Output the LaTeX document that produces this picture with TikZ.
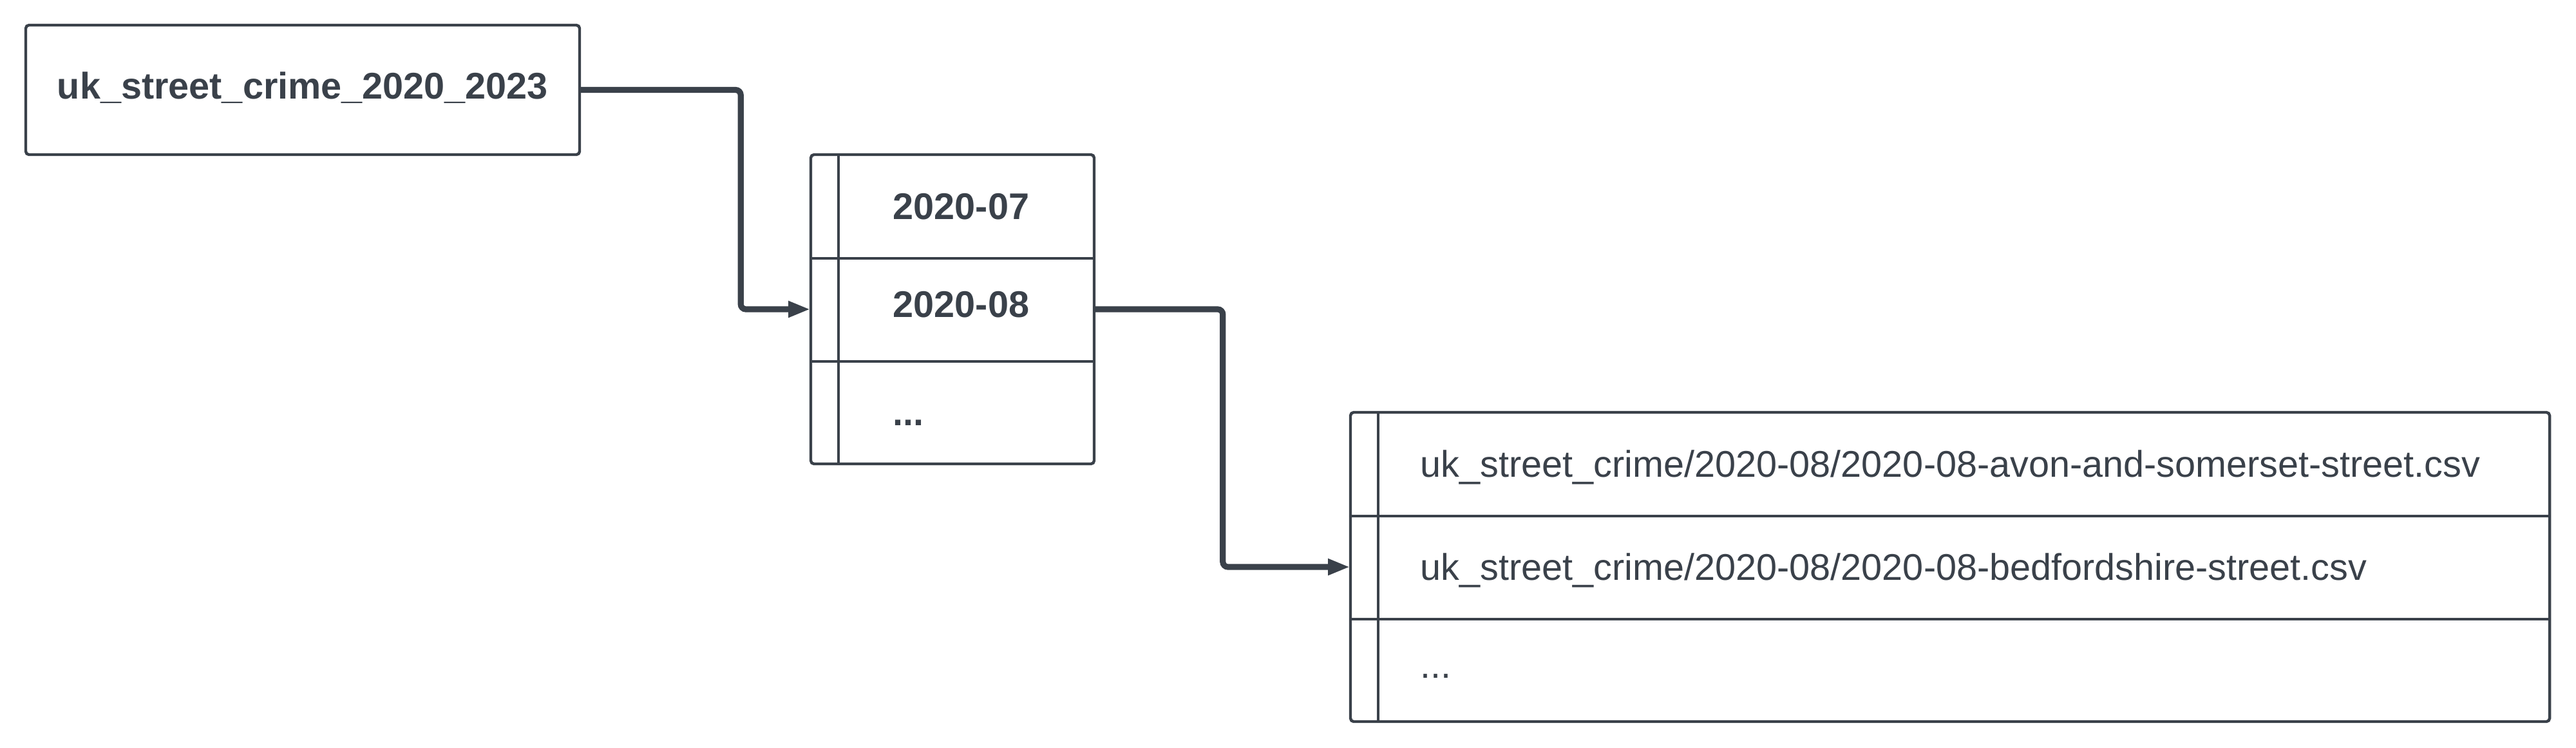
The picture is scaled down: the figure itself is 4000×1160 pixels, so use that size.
\documentclass[tikz,border=0pt]{standalone}
\usepackage{fontspec}
\setmainfont{Liberation Sans}
\usetikzlibrary{arrows.meta,calc}
\definecolor{ink}{HTML}{3A414A}
\begin{document}
\begin{tikzpicture}[x=0.25pt,y=-0.25pt,
  frame/.style={draw=ink,line width=1.1pt,rounded corners=1.25pt,inner sep=0pt,fill=white},
  cell/.style={inner sep=0pt,minimum height=40pt},
  lbl/.style={text=ink,inner sep=0pt,text height=10.3pt,text depth=0pt,font=\fontsize{14.4}{17}\selectfont},
  boldlbl/.style={lbl,font=\fontsize{14.4}{17}\selectfont\bfseries},
  sep/.style={draw=ink,line width=1.1pt},
  conn/.style={draw=ink,line width=2.3pt,rounded corners=2pt,-{Triangle[length=8.5pt,width=5.9pt]}}]
\useasboundingbox (0,0) rectangle (4000,1160);
% root box
\node[frame,minimum width=215pt,minimum height=50.25pt] (root) at (470,139.5) {};
\node[boldlbl] (rootlbl) at (470,132.5) {uk\_street\_crime\_2020\_2023};
% month table
\node[frame,minimum width=110pt,minimum height=120pt] (t2) at (1479,480) {};
\node[cell,minimum width=110pt] (r1) at (1479,320) {};
\node[cell,minimum width=110pt] (r2) at (1479,480) {};
\node[cell,minimum width=110pt] (r3) at (1479,640) {};
\draw[sep] (r1.south west) -- (r1.south east);
\draw[sep] (r2.south west) -- (r2.south east);
\draw[sep] (1302,240) -- (1302,720);
\node[boldlbl,anchor=west] (m1) at (1386,320) {2020-07};
\node[boldlbl,anchor=west] (m2) at (1386,471.5) {2020-08};
\node[boldlbl,anchor=west] (m3) at (1386,640) {...};
% file table
\node[frame,minimum width=465.5pt,minimum height=120pt] (t3) at (3028,880) {};
\node[cell,minimum width=465.5pt] (s1) at (3028,720) {};
\node[cell,minimum width=465.5pt] (s2) at (3028,880) {};
\node[cell,minimum width=465.5pt] (s3) at (3028,1040) {};
\draw[sep] (s1.south west) -- (s1.south east);
\draw[sep] (s2.south west) -- (s2.south east);
\draw[sep] (2140,640) -- (2140,1120);
\node[lbl,anchor=west] (f1) at (2205,720) {uk\_street\_crime/2020-08/2020-08-avon-and-somerset-street.csv};
\node[lbl,anchor=west] (f2) at (2205,880) {uk\_street\_crime/2020-08/2020-08-bedfordshire-street.csv};
\node[lbl,anchor=west] (f3) at (2205,1032) {...};
% connectors
\draw[conn] (root.east) -- ++(248,0) |- (r2.west);
\draw[conn] (r2.east) -- ++(199,0) |- (s2.west);
\end{tikzpicture}
\end{document}
